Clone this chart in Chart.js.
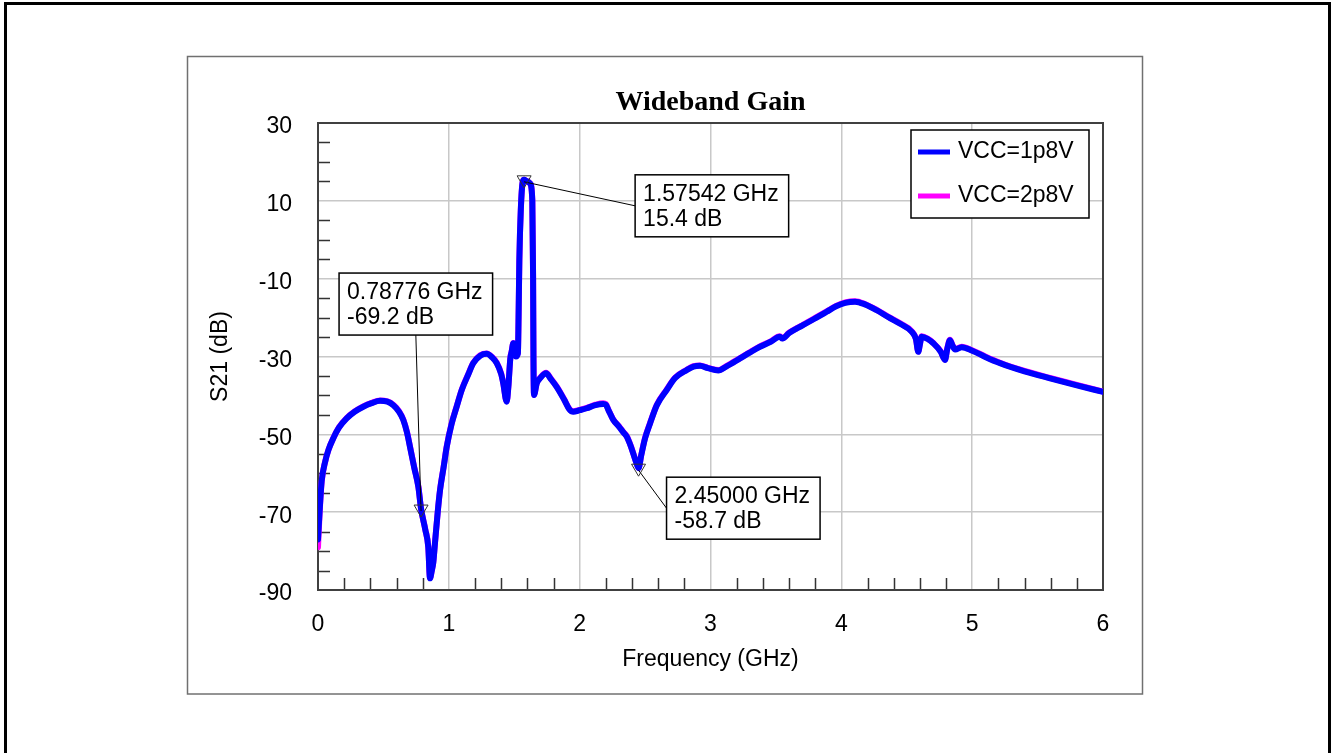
<!DOCTYPE html>
<html>
<head>
<meta charset="utf-8">
<title>Wideband Gain</title>
<script src="https://cdn.jsdelivr.net/npm/chart.js@4.4.1/dist/chart.umd.min.js"></script>
<style>
  html, body { margin: 0; padding: 0; background: #fff; }
  #chart { display: block; }
</style>
</head>
<body>
<canvas id="chart" width="1333" height="753"></canvas>
<script>
"use strict";

// frequency sweep (GHz)
const freqGHz = [
    0.000, 0.012, 0.028, 0.055, 0.080, 0.117, 0.160, 0.219, 0.280, 0.346,
    0.410, 0.474, 0.530, 0.576, 0.620, 0.652, 0.680, 0.703, 0.735, 0.767,
    0.788, 0.820, 0.843, 0.856, 0.870, 0.881, 0.894, 0.915, 0.933, 0.960,
    0.984, 1.020, 1.060, 1.100, 1.150, 1.187, 1.240, 1.289, 1.330, 1.366,
    1.400, 1.416, 1.442, 1.455, 1.470, 1.480, 1.493, 1.513, 1.528, 1.533,
    1.539, 1.550, 1.565, 1.575, 1.600, 1.620, 1.638, 1.644, 1.647, 1.651,
    1.672, 1.700, 1.743, 1.780, 1.824, 1.880, 1.920, 1.951, 2.000, 2.054,
    2.120, 2.180, 2.200, 2.219, 2.257, 2.300, 2.334, 2.360, 2.390, 2.410,
    2.435, 2.450, 2.470, 2.500, 2.538, 2.590, 2.665, 2.730, 2.818, 2.870,
    2.920, 2.980, 3.060, 3.120, 3.226, 3.300, 3.378, 3.460, 3.530, 3.550,
    3.600, 3.660, 3.710, 3.800, 3.888, 3.960, 4.030, 4.105, 4.180, 4.270,
    4.360, 4.450, 4.537, 4.570, 4.588, 4.600, 4.614, 4.660, 4.703, 4.760,
    4.792, 4.810, 4.830, 4.850, 4.870, 4.920, 5.000, 5.100, 5.213, 5.400,
    5.595, 5.800, 6.000
];

// S21 (dB), VCC = 1.8 V
const s21Vcc1p8 = [
    -77.0, -70.0, -62.0, -57.0, -54.0, -51.0, -48.3, -45.9, -44.2, -42.9,
    -42.0, -41.4, -41.6, -42.5, -44.2, -46.3, -49.5, -53.2, -58.5, -63.5,
    -69.2, -74.5, -79.0, -87.0, -85.0, -83.0, -78.0, -70.0, -64.3, -58.5,
    -53.2, -47.5, -42.9, -38.5, -34.5, -31.7, -29.8, -29.3, -30.2, -31.7,
    -34.5, -36.9, -41.6, -37.8, -30.5, -28.8, -26.6, -30.0, -29.2, -20.0,
    -5.2, 7.6, 14.9, 15.4, 15.0, 14.5, 10.2, -9.5, -30.9, -39.9,
    -36.9, -35.5, -34.3, -35.8, -37.8, -41.0, -43.5, -44.2, -43.8, -43.3,
    -42.5, -42.2, -42.4, -43.7, -46.3, -48.0, -49.5, -50.6, -53.0, -55.0,
    -57.5, -58.7, -55.5, -51.0, -47.2, -42.5, -38.6, -35.5, -33.5, -32.6,
    -32.4, -33.0, -33.6, -32.6, -30.5, -29.0, -27.5, -26.2, -24.9, -25.4,
    -24.0, -22.8, -21.9, -20.2, -18.5, -17.1, -16.2, -15.9, -16.6, -18.1,
    -19.9, -21.6, -23.6, -25.5, -28.8, -27.0, -24.9, -25.5, -26.6, -28.8,
    -30.9, -28.0, -25.8, -27.2, -28.2, -27.6, -28.5, -30.1, -31.7, -33.8,
    -35.6, -37.4, -39.1
];

// S21 (dB), VCC = 2.8 V (almost identical, hidden under the 1.8 V trace)
const s21Vcc2p8 = [
    -79.0, -70.5, -62.2, -57.0, -54.0, -51.0, -48.2, -45.8, -44.1, -42.8,
    -41.9, -41.3, -41.5, -42.4, -44.1, -46.2, -49.4, -53.1, -58.4, -63.4,
    -69.2, -74.4, -79.0, -86.9, -84.9, -82.9, -77.9, -70.0, -64.2, -58.4,
    -53.1, -47.4, -42.8, -38.4, -34.4, -31.6, -29.7, -29.2, -30.1, -31.6,
    -34.4, -36.8, -41.5, -37.7, -30.4, -28.7, -26.5, -29.9, -29.1, -20.0,
    -5.2, 7.6, 14.9, 15.4, 15.0, 14.5, 10.2, -9.5, -30.8, -39.8,
    -36.8, -35.4, -34.2, -35.7, -37.7, -40.9, -43.4, -44.1, -43.7, -43.2,
    -42.4, -42.0, -42.2, -43.6, -46.2, -47.9, -49.4, -50.5, -52.9, -54.9,
    -57.4, -58.6, -55.4, -50.9, -47.1, -42.4, -38.5, -35.4, -33.4, -32.5,
    -32.3, -32.9, -33.5, -32.5, -30.4, -28.9, -27.4, -26.1, -24.8, -25.3,
    -23.9, -22.7, -21.8, -20.1, -18.4, -17.0, -16.1, -15.8, -16.5, -18.0,
    -19.8, -21.5, -23.5, -25.4, -28.7, -26.9, -24.8, -25.4, -26.5, -28.7,
    -30.8, -27.9, -25.7, -27.1, -28.1, -27.5, -28.4, -30.0, -31.6, -33.7,
    -35.5, -37.3, -39.0
];

const seriesLabels = ['VCC=1p8V', 'VCC=2p8V'];
const seriesColors = ['#0000ff', '#ff00ff'];

// marker readouts
const markerFreq = [0.78776, 1.57542, 2.45];
const markerDb = [-69.2, 15.4, -58.7];

// where each marker's readout box sits, relative to the marker (px)
const calloutPlacement = [
    {dx: -82, dy: -236, anchor: 'bottom'},
    {dx: 111, dy: -5, anchor: 'left'},
    {dx: 28, dy: 9, anchor: 'left'},
];

const SANS = '"Liberation Sans", Arial, Helvetica, sans-serif';
const SERIF = '"Liberation Serif", "Times New Roman", Times, serif';
const TXT = 23;

Chart.defaults.font.family = SANS;
Chart.defaults.color = '#000';

const decor = {
    id: 'decor',
    beforeDraw(chart) {
        const ctx = chart.ctx;
        ctx.save();
        ctx.fillStyle = '#fff';
        ctx.fillRect(0, 0, chart.width, chart.height);
        // outer page frame
        ctx.strokeStyle = '#000';
        ctx.lineWidth = 3;
        ctx.strokeRect(5.5, 3.5, 1324, 800);
        // plot panel
        ctx.strokeStyle = '#707070';
        ctx.lineWidth = 1.5;
        ctx.strokeRect(187.5, 56.5, 955, 637.5);
        ctx.restore();
    },
    beforeDatasetsDraw(chart) {
        const {ctx, chartArea: a, scales: {x, y}} = chart;
        ctx.save();
        // minor ticks, pointing inwards
        ctx.strokeStyle = '#333';
        ctx.lineWidth = 1.5;
        ctx.beginPath();
        for (let i = 1; i < 30; i++) {
            if (i % 5 === 0) continue;
            const px = Math.round(x.getPixelForValue(i * 0.2)) + 0.5;
            ctx.moveTo(px, a.bottom);
            ctx.lineTo(px, a.bottom - 12);
        }
        for (let i = 1; i < 24; i++) {
            if (i % 4 === 0) continue;
            const py = Math.round(y.getPixelForValue(-90 + i * 5)) + 0.5;
            ctx.moveTo(a.left, py);
            ctx.lineTo(a.left + 12, py);
        }
        ctx.stroke();
        // plot frame
        ctx.strokeStyle = '#404040';
        ctx.lineWidth = 2;
        ctx.strokeRect(a.left, a.top, a.right - a.left, a.bottom - a.top);
        // title
        ctx.fillStyle = '#000';
        ctx.font = 'bold 28px ' + SERIF;
        ctx.textAlign = 'center';
        ctx.textBaseline = 'alphabetic';
        ctx.fillText('Wideband Gain', (a.left + a.right) / 2, 110);
        ctx.restore();
    },
    afterDatasetsDraw(chart) {
        const {ctx, chartArea: a, scales: {x, y}} = chart;
        ctx.save();
        ctx.font = TXT + 'px ' + SANS;
        ctx.textBaseline = 'alphabetic';
        ctx.textAlign = 'left';

        markerFreq.forEach((f, i) => {
            const px = x.getPixelForValue(f);
            const py = y.getPixelForValue(markerDb[i]);
            const lines = [f.toFixed(5) + ' GHz', markerDb[i].toFixed(1) + ' dB'];
            const w = Math.max(...lines.map(s => ctx.measureText(s).width)) + 18;
            const h = 62;
            const place = calloutPlacement[i];
            const bx = px + place.dx;
            const by = py + place.dy;
            const ax = place.anchor === 'bottom' ? bx + w / 2 : bx;
            const ay = place.anchor === 'bottom' ? by + h : by + h / 2;

            // leader line
            ctx.strokeStyle = '#000';
            ctx.lineWidth = 1;
            ctx.beginPath();
            ctx.moveTo(px, py + 2);
            ctx.lineTo(ax, ay);
            ctx.stroke();

            // marker triangle
            ctx.strokeStyle = '#333';
            ctx.beginPath();
            ctx.moveTo(px - 7, py - 4);
            ctx.lineTo(px + 7, py - 4);
            ctx.lineTo(px, py + 8);
            ctx.closePath();
            ctx.stroke();

            // readout box
            ctx.fillStyle = '#fff';
            ctx.fillRect(bx, by, w, h);
            ctx.strokeStyle = '#000';
            ctx.lineWidth = 1.5;
            ctx.strokeRect(bx, by, w, h);
            ctx.fillStyle = '#000';
            ctx.fillText(lines[0], bx + 8, by + 26);
            ctx.fillText(lines[1], bx + 8, by + 51);
        });

        // legend
        const lx = a.right - 192, ly = a.top + 7, lw = 178, lh = 88;
        ctx.fillStyle = '#fff';
        ctx.fillRect(lx, ly, lw, lh);
        ctx.strokeStyle = '#000';
        ctx.lineWidth = 1.5;
        ctx.strokeRect(lx, ly, lw, lh);
        ctx.textBaseline = 'middle';
        chart.data.datasets.forEach((ds, i) => {
            const ry = ly + 22 + i * 44;
            ctx.strokeStyle = ds.borderColor;
            ctx.lineWidth = 5;
            ctx.beginPath();
            ctx.moveTo(lx + 7, ry);
            ctx.lineTo(lx + 39, ry);
            ctx.stroke();
            ctx.fillStyle = '#000';
            ctx.fillText(ds.label, lx + 47, ry);
        });
        ctx.restore();
    }
};

const makeSeries = (vals, i) => ({
    label: seriesLabels[i],
    data: freqGHz.map((f, k) => ({x: f, y: vals[k]})),
    borderColor: seriesColors[i],
    backgroundColor: seriesColors[i],
    borderWidth: 6,
    pointRadius: 0,
    cubicInterpolationMode: 'monotone',
    borderJoinStyle: 'round',
    borderCapStyle: 'round',
    fill: false,
});

const gridStyle = {color: '#c8c8c8', lineWidth: 1.5, drawTicks: false, tickLength: 0};

new Chart(document.getElementById('chart'), {
    type: 'line',
    data: {
        datasets: [makeSeries(s21Vcc1p8, 0), makeSeries(s21Vcc2p8, 1)]
    },
    options: {
        responsive: false,
        animation: false,
        events: [],
        layout: {padding: {left: 193, top: 123, right: 230, bottom: 80}},
        plugins: {
            legend: {display: false},
            tooltip: {enabled: false},
        },
        scales: {
            x: {
                type: 'linear',
                min: 0,
                max: 6,
                grid: gridStyle,
                border: {display: false},
                ticks: {stepSize: 1, padding: 21, maxRotation: 0, font: {size: TXT}, color: '#000'},
                title: {display: true, text: 'Frequency (GHz)', font: {size: TXT}, color: '#000', padding: 0},
                afterFit: s => { s.height = 83; },
            },
            y: {
                min: -90,
                max: 30,
                grid: gridStyle,
                border: {display: false},
                ticks: {stepSize: 20, padding: 26, labelOffset: 4, font: {size: TXT}, color: '#000'},
                title: {display: true, text: 'S21 (dB)', font: {size: TXT}, color: '#000', padding: {top: 14, bottom: 0}},
                afterFit: s => { s.width = 125; },
            }
        }
    },
    plugins: [decor]
});
</script>
</body>
</html>
